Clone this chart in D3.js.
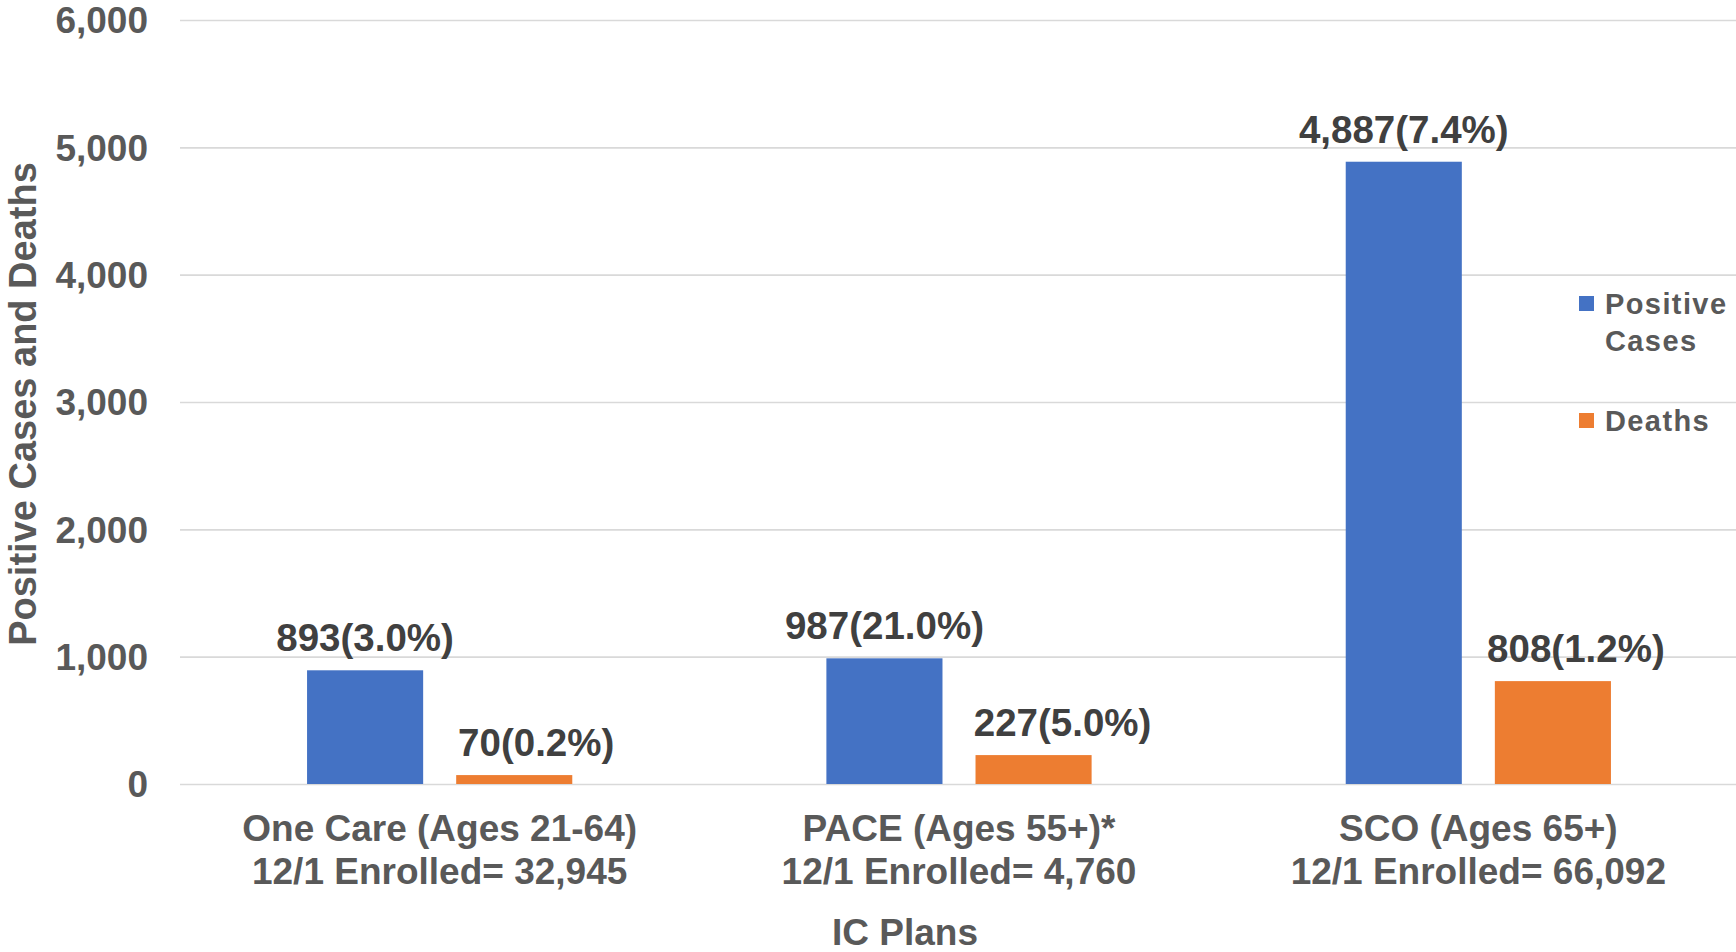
<!DOCTYPE html>
<html>
<head>
<meta charset="utf-8">
<script src="https://cdn.jsdelivr.net/npm/d3@7"></script>
<style>
  html, body { margin: 0; padding: 0; background: #fff; }
  svg { display: block; }
  text { font-family: "Liberation Sans", Arial, sans-serif; font-weight: bold; }
</style>
</head>
<body>
<svg id="chart" width="1736" height="952"></svg>
<script>
const categories = ["One Care (Ages 21-64)", "PACE (Ages 55+)*", "SCO (Ages 65+)"];
const categorySub = ["12/1 Enrolled= 32,945", "12/1 Enrolled= 4,760", "12/1 Enrolled= 66,092"];
const seriesNames = ["Positive Cases", "Deaths"];
const positiveCases = [893, 987, 4887];
const deaths = [70, 227, 808];
const positiveLabels = ["893(3.0%)", "987(21.0%)", "4,887(7.4%)"];
const deathLabels = ["70(0.2%)", "227(5.0%)", "808(1.2%)"];
const yTicks = [0, 1000, 2000, 3000, 4000, 5000, 6000];
const colors = ["#4472C4", "#ED7D31"];

// layout only: horizontal nudges of the death labels (px), as placed in the original
const deathLabelNudge = [22, 29, 23];

const svg = d3.select("#chart");
const plotLeft = 180, plotRight = 1738, plotTop = 20, plotBottom = 784;

const x0 = d3.scaleBand().domain(categories).range([plotLeft, plotRight]).padding(0);
const x1 = d3.scaleBand().domain(seriesNames).range([0, x0.bandwidth()])
  .paddingInner(0.2215).paddingOuter(0.852);
const y = d3.scaleLinear().domain([0, 6000]).range([plotBottom, plotTop]);

// gridlines + y labels
const yAxis = d3.axisLeft(y).tickValues(yTicks).tickFormat(d3.format(","))
  .tickSize(-(plotRight - plotLeft)).tickPadding(32);
const gy = svg.append("g").attr("transform", `translate(${plotLeft},0)`).call(yAxis);
gy.select(".domain").remove();
gy.selectAll(".tick line").attr("stroke", "#d9d9d9").attr("stroke-width", 1.6);
gy.selectAll(".tick text").attr("fill", "#595959").attr("font-size", 37)
  .attr("font-family", '"Liberation Sans", Arial, sans-serif').attr("font-weight", "bold")
  .attr("dy", "0.35em");

const rows = categories.map((c, i) => ({
  cat: c,
  vals: [
    { s: seriesNames[0], v: positiveCases[i], label: positiveLabels[i], nudge: 0 },
    { s: seriesNames[1], v: deaths[i], label: deathLabels[i], nudge: deathLabelNudge[i] }
  ]
}));

const groups = svg.append("g").selectAll("g").data(rows).join("g")
  .attr("transform", d => `translate(${x0(d.cat)},0)`);

groups.selectAll("rect").data(d => d.vals).join("rect")
  .attr("x", d => x1(d.s))
  .attr("y", d => y(d.v))
  .attr("width", x1.bandwidth())
  .attr("height", d => y(0) - y(d.v))
  .attr("fill", (d, i) => colors[i]);

groups.selectAll("text.lbl").data(d => d.vals).join("text")
  .attr("class", "lbl")
  .attr("x", d => x1(d.s) + x1.bandwidth() / 2 + d.nudge)
  .attr("y", d => y(d.v) - 19)
  .attr("text-anchor", "middle")
  .attr("font-size", 38.5)
  .attr("fill", "#404040")
  .text(d => d.label);

// category labels
const catG = svg.append("g");
categories.forEach((c, i) => {
  const cx = x0(c) + x0.bandwidth() / 2;
  catG.append("text").attr("x", cx).attr("y", 841).attr("text-anchor", "middle")
    .attr("font-size", 37).attr("fill", "#595959").text(c);
  catG.append("text").attr("x", cx).attr("y", 884).attr("text-anchor", "middle")
    .attr("font-size", 37).attr("fill", "#595959").text(categorySub[i]);
});

// axis titles
svg.append("text").attr("x", 905).attr("y", 945).attr("text-anchor", "middle")
  .attr("font-size", 37).attr("fill", "#595959").text("IC Plans");
svg.append("text").attr("transform", "translate(36,404) rotate(-90)")
  .attr("text-anchor", "middle").attr("font-size", 38).attr("fill", "#595959")
  .text("Positive Cases and Deaths");

// legend
const legend = svg.append("g");
const legItems = [
  { name: ["Positive", "Cases"], color: colors[0], y: 314 },
  { name: ["Deaths"], color: colors[1], y: 431 }
];
legItems.forEach(it => {
  legend.append("rect").attr("x", 1579).attr("y", it.y - 18).attr("width", 15).attr("height", 15)
    .attr("fill", it.color);
  it.name.forEach((t, j) => {
    legend.append("text").attr("x", 1605).attr("y", it.y + j * 37)
      .attr("font-size", 29).attr("letter-spacing", 1.4).attr("fill", "#595959").text(t);
  });
});
</script>
</body>
</html>
